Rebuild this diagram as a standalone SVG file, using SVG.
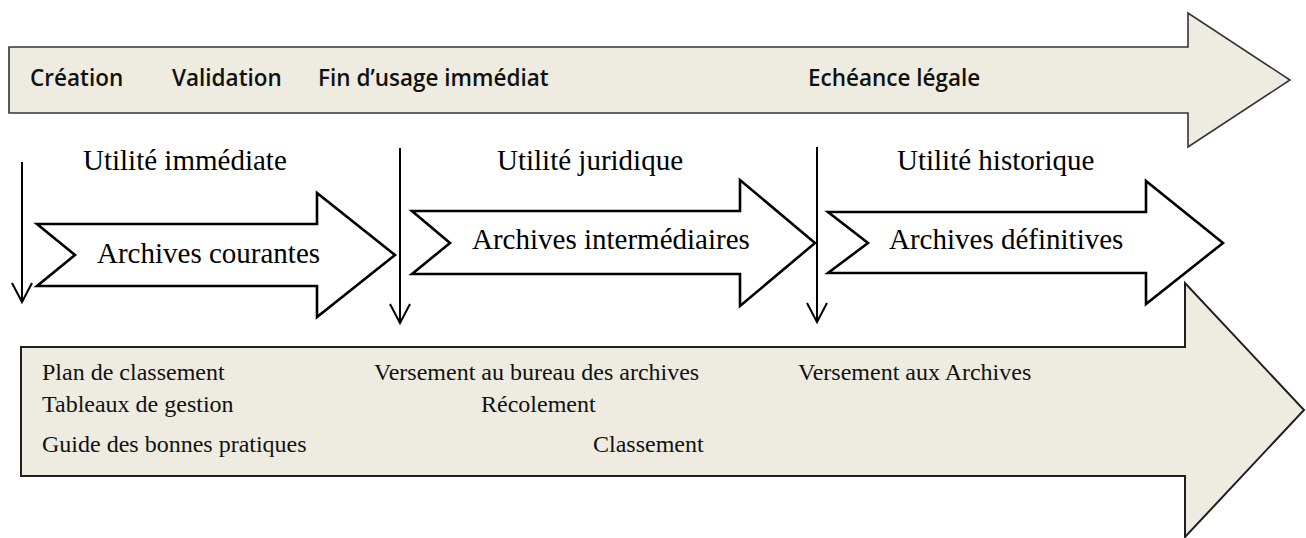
<svg xmlns="http://www.w3.org/2000/svg" width="1306" height="538" viewBox="0 0 1306 538">
  <style>
    .beige { fill: #EEECE1; stroke: #1f1f1f; stroke-width: 2; stroke-linejoin: miter; }
    .top { fill: #EEECE1; stroke: #333333; stroke-width: 1.6; }
    .white { fill: #ffffff; stroke: #000000; stroke-width: 2.6; stroke-linejoin: miter; }
    .cal { font-family: "Open Sans", "Liberation Sans", sans-serif; font-size: 22.5px; font-weight: 600; fill: #111111; }
    .mid { font-family: "Liberation Serif", "Times New Roman", serif; font-size: 29px; fill: #000000; }
    .low { font-family: "Liberation Serif", "Times New Roman", serif; font-size: 24px; fill: #111111; }
    .conn { stroke: #000000; stroke-width: 2; fill: none; }
  </style>
  <defs>
    <marker id="vhead" markerUnits="userSpaceOnUse" markerWidth="24" markerHeight="24" refX="0" refY="0" orient="auto" overflow="visible">
      <path d="M -19,-10 L 0,0 L -19,10" fill="none" stroke="#000000" stroke-width="2"/>
    </marker>
  </defs>

  <g id="timeline">
    <polygon class="top" points="9,47 1188,47 1188,13 1290,80 1188,147 1188,113 9,113"/>
    <text class="cal" x="30" y="86">Création</text>
    <text class="cal" x="172" y="86">Validation</text>
    <text class="cal" x="318" y="86">Fin d’usage immédiat</text>
    <text class="cal" x="808" y="86">Echéance légale</text>
  </g>

  <g id="actions">
    <polygon class="beige" points="21,347 1185,347 1185,283 1304,410 1185,537 1185,476 21,476"/>
    <text class="low" x="42" y="380">Plan de classement</text>
    <text class="low" x="42" y="412">Tableaux de gestion</text>
    <text class="low" x="42" y="452">Guide des bonnes pratiques</text>
    <text class="low" x="374" y="380">Versement au bureau des archives</text>
    <text class="low" x="481" y="412">Récolement</text>
    <text class="low" x="593" y="452">Classement</text>
    <text class="low" x="798" y="380">Versement aux Archives</text>
  </g>

  <g id="label-immediate">
    <text class="mid" x="83" y="170">Utilité immédiate</text>
  </g>
  <g id="label-juridique">
    <text class="mid" x="497" y="170">Utilité juridique</text>
  </g>
  <g id="label-historique">
    <text class="mid" x="897" y="170">Utilité historique</text>
  </g>

  <g id="archives-courantes">
    <polygon class="white" points="37,224 317,224 317,193 395,255 317,317 317,286 37,286 75,255"/>
    <text class="mid" x="97" y="263">Archives courantes</text>
  </g>
  <g id="archives-intermediaires">
    <polygon class="white" points="412,211 740,211 740,180 815,243 740,306 740,274 412,274 450,243"/>
    <text class="mid" x="472" y="249">Archives intermédiaires</text>
  </g>
  <g id="archives-definitives">
    <polygon class="white" points="828,212 1146,212 1146,181 1223,243 1146,304 1146,273 828,273 868,243"/>
    <text class="mid" x="889" y="249">Archives définitives</text>
  </g>

  <g id="connectors">
    <line class="conn" x1="22" y1="162" x2="22" y2="302" marker-end="url(#vhead)"/>
    <line class="conn" x1="400" y1="148" x2="400" y2="323" marker-end="url(#vhead)"/>
    <line class="conn" x1="817" y1="147" x2="817" y2="322" marker-end="url(#vhead)"/>
  </g>
</svg>
